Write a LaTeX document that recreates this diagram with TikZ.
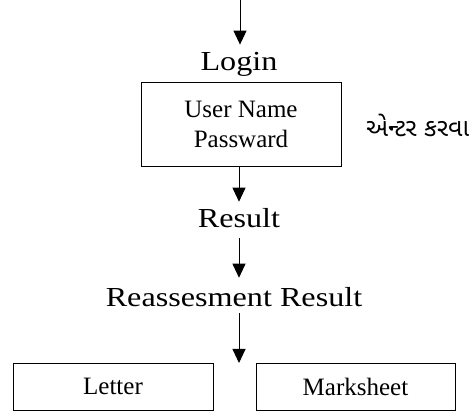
\documentclass[tikz,border=0pt]{standalone}
\usepackage{fontspec}
\setmainfont{Liberation Serif}
\newfontfamily\gujfont[Script=Gujarati]{Noto Sans Gujarati UI}
\usepackage{graphicx}
\usepackage{tikz}
\usetikzlibrary{arrows.meta, positioning}
\newcommand{\wide}[1]{\scalebox{1.17}[1]{#1}}
\tikzset{
    flow/.style={line width=0.9pt, -{Triangle[length=14pt, width=13pt]}},
    lbl/.style={font=\fontsize{27.5}{30}\selectfont, inner sep=0pt},
    infobox/.style={draw, line width=0.9pt, font=\fontsize{25}{30}\selectfont, align=center, inner sep=0pt}
}

\begin{document}
\begin{tikzpicture}[x=1pt, y=1pt]
    \useasboundingbox (0, 0) rectangle (473, 414);

    % Login step
    \coordinate (entry) at (240, 414);
    \node[lbl, anchor=base] (login) at (239, 343) {\wide{Login}};
    \node[infobox, minimum width=200pt, minimum height=84pt] (cred) at (241, 290) {User Name\\Passward};
    \node[anchor=west, font=\gujfont\fontsize{25}{28}\selectfont, inner sep=0pt] (enter) at (366, 289) {એન્ટર કરવા};

    % Result steps
    \node[lbl, anchor=base] (result) at (239, 186) {\wide{Result}};
    \node[lbl, anchor=base] (reassess) at (234, 107) {\wide{Reassesment Result}};
    \coordinate (split) at (239, 51);

    % Output boxes
    \node[infobox, minimum width=200pt, minimum height=47pt] (letter) at (113, 27.5) {Letter};
    \node[infobox, minimum width=199pt, minimum height=47pt] (marks) at (355.5, 27.5) {Marksheet};

    % Arrows
    \draw[flow] (entry) -- ([yshift=8pt]login.north -| entry);
    \draw[flow] (cred.south -| result) -- ([yshift=7pt]result.north);
    \draw[flow] ([yshift=-10pt]result.south) -- ([yshift=10pt]reassess.north -| result);
    \draw[flow] ([yshift=-6pt]reassess.south -| split) -- (split);
\end{tikzpicture}
\end{document}
